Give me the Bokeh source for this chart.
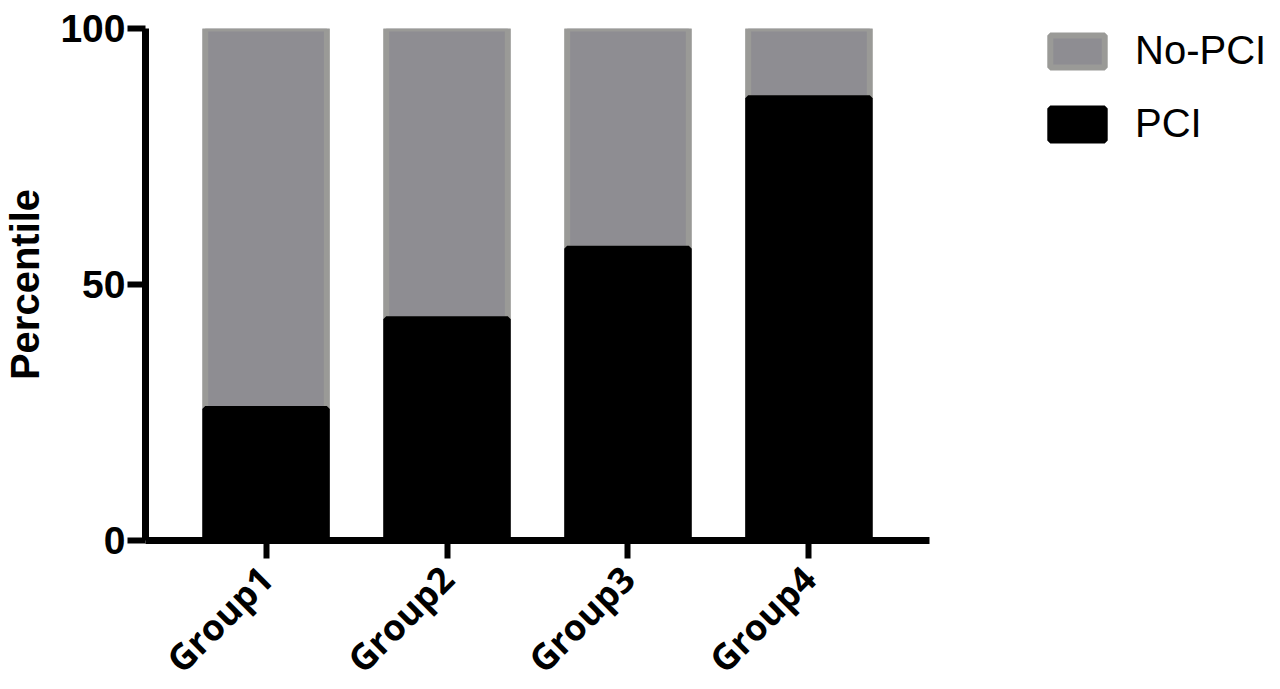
import math
from bokeh.plotting import figure
from bokeh.layouts import row
from bokeh.models import FactorRange, Range1d, Legend, LegendItem, FixedTicker, ColumnDataSource
from bokeh.embed import file_html
from bokeh.resources import INLINE

groups = ["Group1", "Group2", "Group3", "Group4"]
pci = [25.7, 43.2, 57.0, 86.4]
no_pci = [100 - v for v in pci]
y_ticks = [0, 50, 100]
series_names = ["No-PCI", "PCI"]

src = ColumnDataSource(dict(g=groups, pci=pci, no_pci=no_pci, top=[100] * 4))

GRAY_FILL = "#8e8d92"
GRAY_LINE = "#9a9a97"

p = figure(
    x_range=FactorRange(*groups, range_padding=0.166, range_padding_units="absolute"),
    y_range=Range1d(0, 100),
    frame_width=784, frame_height=512,
    min_border_left=143, min_border_right=113, min_border_top=14, min_border_bottom=141,
    output_backend="svg", toolbar_location=None,
)
p.outline_line_color = None
p.grid.visible = False

bw = 0.672
gray = p.vbar(x="g", bottom="pci", top="top", width=bw, source=src,
              fill_color=GRAY_FILL, line_color=GRAY_LINE, line_width=6)
black = p.vbar(x="g", bottom=0, top="pci", width=bw, source=src,
               fill_color="black", line_color="black", line_width=6)

for ax in (p.xaxis[0], p.yaxis[0]):
    ax.axis_line_width = 7
    ax.axis_line_color = "black"
    ax.major_tick_line_width = 6
    ax.major_tick_line_color = "black"
    ax.major_tick_in = 0
    ax.minor_tick_line_color = None

p.yaxis.ticker = FixedTicker(ticks=y_ticks)
p.yaxis.major_tick_out = 18
p.yaxis.major_label_standoff = 2
p.yaxis.major_label_text_font = "Liberation Sans"
p.yaxis.major_label_text_font_style = "bold"
p.yaxis.major_label_text_font_size = "39px"
p.yaxis.major_label_text_color = "black"
p.yaxis.axis_label = "Percentile"
p.yaxis.axis_label_text_font = "Liberation Sans"
p.yaxis.axis_label_text_font_style = "bold"
p.yaxis.axis_label_text_font_size = "40px"
p.yaxis.axis_label_text_color = "black"
p.yaxis.axis_label_standoff = 10

p.xaxis.major_tick_out = 18
p.xaxis.major_label_orientation = math.pi / 4
p.xaxis.major_label_standoff = 14
p.xaxis.major_label_text_font = "Open Sans"
p.xaxis.major_label_text_font_style = "bold"
p.xaxis.major_label_text_font_size = "36px"
p.xaxis.major_label_text_color = "black"

# legend panel: its bars use factors absent from its own x range, so only the legend shows
p2 = figure(width=224, height=673, x_axis_location=None, y_axis_location=None,
            x_range=FactorRange("legend"), y_range=Range1d(200, 300),
            min_border_left=1, min_border_right=0, min_border_top=28, min_border_bottom=0,
            output_backend="svg", toolbar_location=None)
p2.outline_line_color = None
p2.grid.visible = False
lg_gray = p2.vbar(x="g", bottom="pci", top="top", width=0.5, source=src,
                  fill_color=GRAY_FILL, line_color=GRAY_LINE, line_width=6)
lg_black = p2.vbar(x="g", bottom=0, top="pci", width=0.5, source=src,
                   fill_color="black", line_color="black", line_width=6)

legend = Legend(
    items=[LegendItem(label=series_names[0], renderers=[lg_gray]),
           LegendItem(label=series_names[1], renderers=[lg_black])],
    location="top_left",
    glyph_width=68, glyph_height=40, label_standoff=24, spacing=28,
    padding=0, margin=0, border_line_color=None, background_fill_alpha=0,
    label_text_font="Liberation Sans", label_text_font_size="40px",
    label_text_color="black", label_height=38,
)
p2.add_layout(legend, "center")

open("out.html", "w").write(file_html(row(p, p2), INLINE))
